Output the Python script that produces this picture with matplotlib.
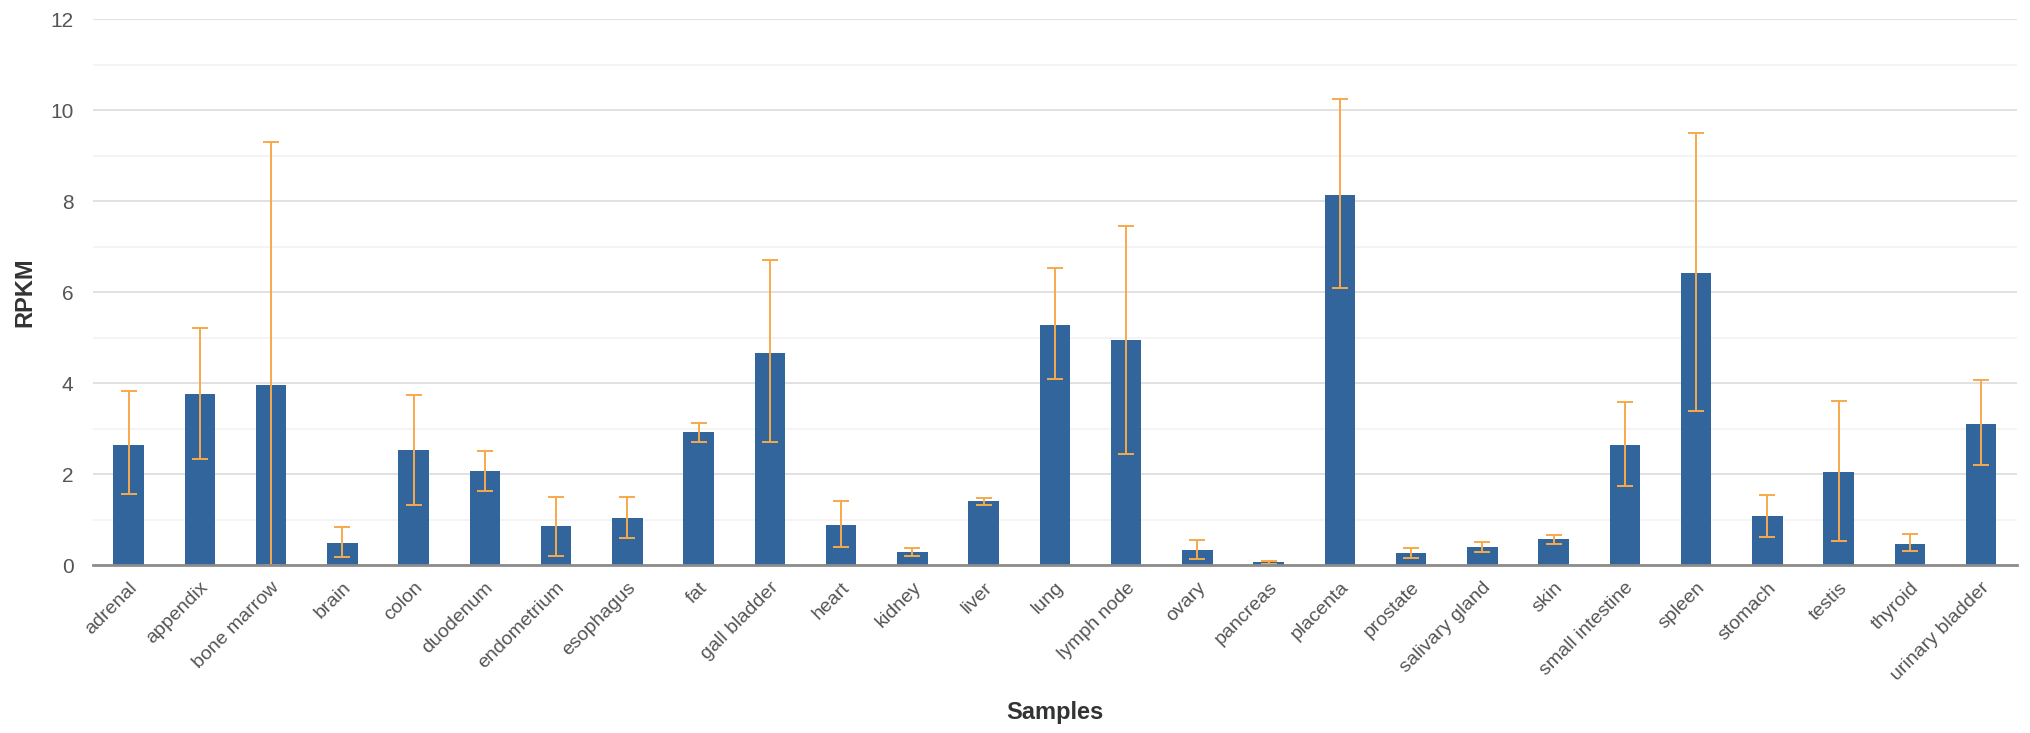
import matplotlib.pyplot as plt
import numpy as np

plt.rcParams['font.family'] = ['Liberation Sans', 'DejaVu Sans']

# tissue expression data (RPKM)
samples = ['adrenal', 'appendix', 'bone marrow', 'brain', 'colon', 'duodenum',
           'endometrium', 'esophagus', 'fat', 'gall bladder', 'heart', 'kidney',
           'liver', 'lung', 'lymph node', 'ovary', 'pancreas', 'placenta',
           'prostate', 'salivary gland', 'skin', 'small intestine', 'spleen',
           'stomach', 'testis', 'thyroid', 'urinary bladder']
rpkm = [2.65, 3.76, 3.96, 0.49, 2.52, 2.06, 0.86, 1.03, 2.92, 4.67, 0.88, 0.29,
        1.40, 5.28, 4.94, 0.34, 0.06, 8.13, 0.26, 0.40, 0.57, 2.63, 6.42, 1.09,
        2.05, 0.47, 3.11]
err_low = [1.57, 2.33, 0.00, 0.18, 1.33, 1.63, 0.21, 0.59, 2.70, 2.70, 0.39, 0.21,
           1.32, 4.09, 2.45, 0.14, 0.03, 6.09, 0.15, 0.29, 0.47, 1.74, 3.38, 0.62,
           0.52, 0.32, 2.21]
err_high = [3.82, 5.22, 9.30, 0.83, 3.74, 2.51, 1.50, 1.49, 3.12, 6.70, 1.40, 0.37,
            1.47, 6.52, 7.46, 0.56, 0.09, 10.24, 0.37, 0.51, 0.67, 3.59, 9.50, 1.54,
            3.61, 0.68, 4.07]

rpkm = np.array(rpkm)
yerr = [rpkm - np.array(err_low), np.array(err_high) - rpkm]
x = np.arange(len(samples))

fig = plt.figure(figsize=(20.31, 7.33), dpi=100)
ax = fig.add_axes([0.0458, 0.229, 0.9472, 0.745])

ax.bar(x, rpkm, width=0.43, color='#31659b', zorder=3)
ax.errorbar(x, rpkm, yerr=yerr, fmt='none', ecolor='#f7a94a', elinewidth=1.4,
            capsize=6, capthick=1.4, zorder=4)

ax.set_xlim(-0.5, len(samples) - 0.5)
ax.set_ylim(0, 12)
ax.set_yticks(np.arange(0, 13, 2))
ax.set_yticks(np.arange(1, 12, 2), minor=True)
ax.grid(axis='y', which='major', color='#dcdcdc', linewidth=1.2, zorder=0)
ax.grid(axis='y', which='minor', color='#f2f2f2', linewidth=1.2, zorder=0)

for s in ['left', 'right', 'top']:
    ax.spines[s].set_visible(False)
ax.spines['bottom'].set_color('#8c8c8c')
ax.spines['bottom'].set_linewidth(2)
ax.spines['bottom'].set_zorder(5)

ax.set_xticks(x)
ax.set_xticklabels(samples, rotation=45, ha='right', rotation_mode='anchor',
                   fontsize=14, color='#555555')
ax.tick_params(axis='x', length=0, pad=10)
ax.tick_params(axis='y', which='both', length=0, pad=14, labelsize=15,
               labelcolor='#555555')

ax.set_ylabel('RPKM', fontsize=17, fontweight='bold', color='#333333', labelpad=10)
ax.set_xlabel('Samples', fontsize=17, fontweight='bold', color='#333333', labelpad=12)

fig.savefig('out.png', dpi=100)
